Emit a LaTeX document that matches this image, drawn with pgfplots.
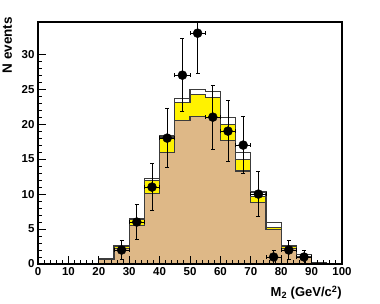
\documentclass[border=0pt]{standalone}
\usepackage{pgfplots}
\pgfplotsset{compat=1.18}
\usepackage{fontspec}
\setmainfont{Liberation Sans}
\definecolor{tanfill}{RGB}{222,184,135}
\definecolor{histline}{RGB}{60,60,60}
\begin{document}
\begin{tikzpicture}
\useasboundingbox (-38pt,-39pt) rectangle (342pt,264pt);
\begin{axis}[
  at={(0pt,0pt)}, anchor=south west, scale only axis,
  width=304pt, height=242pt,
  xmin=0, xmax=100, ymin=0, ymax=34.6,
  xtick={0,10,...,100}, ytick={0,5,...,30},
  minor x tick num=4, minor y tick num=4,
  tick pos=left, tick align=inside,
  major tick length=8pt, minor tick length=4pt,
  axis line style={line width=1.2pt},
  every tick/.style={black, line width=0.9pt},
  tick label style={font=\fontsize{11.5}{12}\selectfont\bfseries},
  /pgf/number format/assume math mode=true,
  axis on top,
]
% total (white)
\addplot[const plot, fill=white, draw=histline, line width=1.1pt] coordinates {
 (20,0.8) (25,2.65) (30,6.5) (35,12.2) (40,18.3) (45,23.7) (50,24.9) (55,24.7)
 (60,20.9) (65,16.0) (70,10.3) (75,5.9) (80,2.7) (85,1.3) (90,0.15) (95,0.15)} \closedcycle;
% tan + yellow
\addplot[const plot, fill=yellow, draw=histline, line width=1.1pt] coordinates {
 (20,0.7) (25,2.55) (30,6.3) (35,12.0) (40,18.1) (45,23.1) (50,24.2) (55,23.8)
 (60,19.9) (65,15.0) (70,9.6) (75,5.25) (80,2.45) (85,1.05) (90,0.1) (95,0.1)} \closedcycle;
% tan
\addplot[const plot, fill=tanfill, draw=histline, line width=1.1pt] coordinates {
 (20,0.6) (25,2.2) (30,5.5) (35,10.1) (40,16.0) (45,20.5) (50,21.1) (55,21.0)
 (60,17.6) (65,13.3) (70,8.8) (75,4.95) (80,2.2) (85,0.9) (90,0.1) (95,0.1)} \closedcycle;
% data
\addplot[only marks, mark=*, mark size=4.5pt, black,
  error bars/.cd, x dir=both, x explicit, y dir=both, y explicit,
  error bar style={line width=1pt, black},
  error mark options={rotate=90, mark size=2pt, line width=1pt, black}]
 coordinates {
 (27.5,2) +- (2.5,1.41)
 (32.5,6) +- (2.5,2.45)
 (37.5,11) +- (2.5,3.32)
 (42.5,18) +- (2.5,4.24)
 (47.5,27) +- (2.5,5.20)
 (52.5,33) +- (2.5,5.74)
 (57.5,21) +- (2.5,4.58)
 (62.5,19) +- (2.5,4.36)
 (67.5,17) +- (2.5,4.12)
 (72.5,10) +- (2.5,3.16)
 (77.5,1) +- (2.5,1.0)
 (82.5,2) +- (2.5,1.41)
 (87.5,1) +- (2.5,1.0)
 };
\end{axis}
\node[rotate=90, anchor=base east, inner sep=0pt, font=\fontsize{13.5}{14}\selectfont\bfseries] at (-26pt,247pt) {N events};
\node[anchor=base east, inner sep=0pt, font=\fontsize{13}{14}\selectfont\bfseries] at (304pt,-32.7pt) {M\textsubscript{2} (GeV/c\textsuperscript{2})};
\end{tikzpicture}
\end{document}
